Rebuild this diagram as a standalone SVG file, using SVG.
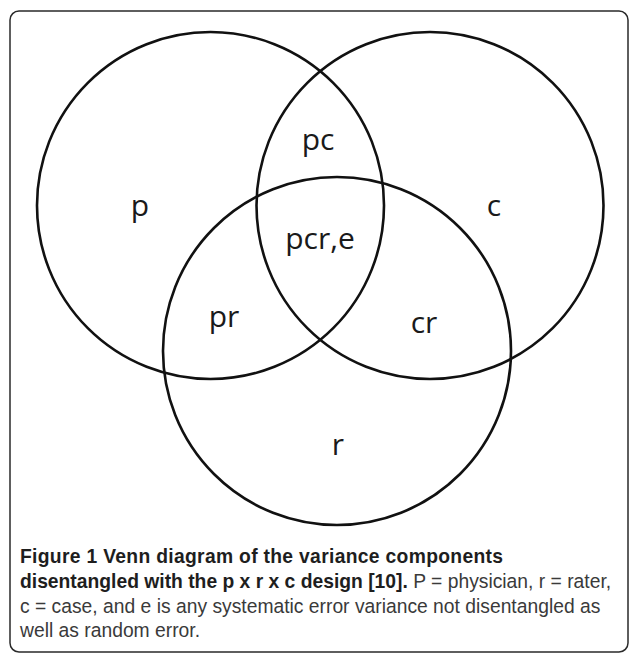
<svg xmlns="http://www.w3.org/2000/svg" width="629" height="654" viewBox="0 0 629 654">
<style>
.frame{fill:none;stroke:#2a2a2a;stroke-width:1.5}
.set{fill:none;stroke:#111;stroke-width:2.6}
.lbl{font-family:"Open Sans","Noto Sans",sans-serif;font-size:30px;fill:#1a1a1a;text-anchor:middle}
.cap{font-family:"Liberation Sans",Arial,sans-serif;font-size:19.3px;fill:#3a3a3a}
.capb{font-weight:bold;fill:#1e1e1e}
</style>
<rect class="frame" x="10" y="11" width="618" height="641" rx="9"/>
<g id="circle-p"><circle class="set" cx="210.5" cy="205.5" r="173.5"/></g>
<g id="circle-c"><circle class="set" cx="430" cy="205.5" r="173.5"/></g>
<g id="circle-r"><circle class="set" cx="337" cy="351" r="174"/></g>
<g id="labels">
<text class="lbl" x="140" y="216">p</text>
<text class="lbl" x="494" y="216">c</text>
<text class="lbl" x="318" y="150">pc</text>
<text class="lbl" x="320" y="249">pcr,e</text>
<text class="lbl" x="224" y="327">pr</text>
<text class="lbl" x="424" y="333">cr</text>
<text class="lbl" x="338" y="455">r</text>
</g>
<g id="caption">
<text class="cap capb" x="20" y="563" textLength="483" lengthAdjust="spacing">Figure 1 Venn diagram of the variance components</text>
<text class="cap" x="20" y="588"><tspan class="capb">disentangled with the p x r x c design [10].</tspan> P = physician, r = rater,</text>
<text class="cap" x="20" y="613">c = case, and e is any systematic error variance not disentangled as</text>
<text class="cap" x="20" y="637">well as random error.</text>
</g>
</svg>
